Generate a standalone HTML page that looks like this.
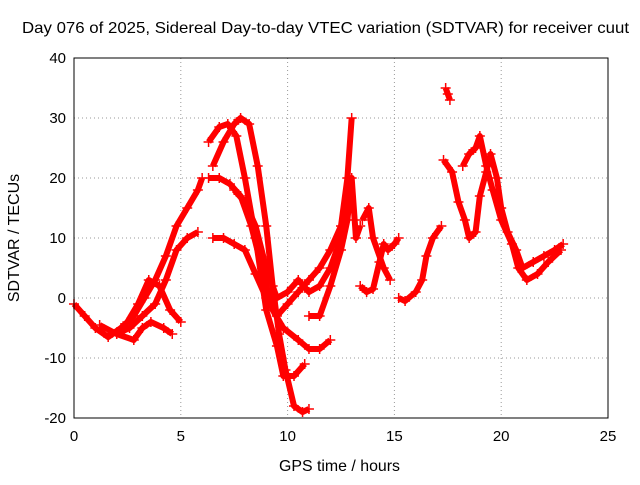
<!DOCTYPE html>
<html><head><meta charset="utf-8">
<style>
html,body{margin:0;padding:0;background:#fff;}
svg text{font-family:"Liberation Sans",sans-serif;font-size:15px;fill:#000;}
</style></head>
<body>
<svg id="chart" width="640" height="480" viewBox="0 0 640 480" xmlns="http://www.w3.org/2000/svg">
<rect width="640" height="480" fill="#fff"/>
<text x="22" y="33" textLength="607" lengthAdjust="spacingAndGlyphs" style="font-size:16px">Day 076 of 2025, Sidereal Day-to-day VTEC variation (SDTVAR) for receiver cuut</text>
<g id="grid"></g>
<g id="series"></g>
<rect x="74" y="58" width="534" height="360" fill="none" stroke="#000" stroke-width="1"/>
<g id="ticks"></g>
<text x="279" y="471" textLength="121" lengthAdjust="spacingAndGlyphs" style="font-size:16px">GPS time / hours</text>
<text x="19" y="238" text-anchor="middle" transform="rotate(-90 19 238)" style="font-size:16px">SDTVAR / TECUs</text>
</svg>
<script>
const xTicks=[0,5,10,15,20,25];
const yTicks=[-20,-10,0,10,20,30,40];
const trackA=[[0,-1],[0.5,-3],[1,-5],[1.6,-6.5],[2.2,-5],[2.8,-3],[3.3,0],[3.8,3],[4.3,7],[4.8,12],[5.3,15],[5.8,18],[6,20]];
const trackB=[[1.2,-4.5],[2,-6],[2.6,-5],[3.2,-3],[3.8,-1],[4.3,3],[4.8,8],[5.3,10],[5.8,11]];
const trackC=[[2,-6],[2.8,-7],[3.2,-5],[3.6,-4],[4.2,-5],[4.6,-6]];
const trackD=[[2.5,-4],[3,-1],[3.5,3],[4,2],[4.5,-2],[5,-4]];
const trackE=[[6.5,22],[7,26],[7.5,29],[7.8,30],[8.2,29],[8.6,22],[9,12],[9.3,2],[9.6,-6],[9.9,-12],[10.3,-18],[10.7,-19],[11,-18.5]];
const trackF=[[6.3,26],[6.8,28.5],[7.2,29],[7.6,27],[8,20],[8.5,10],[9,-2],[9.5,-8],[9.8,-13],[10.3,-13],[10.8,-11]];
const trackG=[[6.3,20],[6.8,20],[7.3,19],[7.8,17],[8.3,12],[8.8,5],[9.3,-2],[9.8,-5],[10.5,-7],[11,-8.5],[11.5,-8.5],[12,-7]];
const trackH=[[6.5,10],[7,10],[7.5,9],[8,8],[8.5,4],[9,0],[9.5,-3],[10,-1],[10.5,1],[11,3],[11.5,5],[12,8],[12.5,12],[12.8,20],[13,30]];
const trackI=[[7.5,18],[8,16],[8.5,12],[9,5],[9.5,0],[10,1],[10.5,3],[11,1],[11.5,2],[12,5],[12.5,10],[12.8,15]];
const trackJ=[[11,-3],[11.5,-3],[12,2],[12.5,8],[12.8,13],[13,20],[13.2,10],[13.4,12]];
const trackK=[[13.4,2],[13.7,1],[14,1.5],[14.3,6],[14.5,9],[14.7,8],[15,9],[15.2,10]];
const trackL=[[13.5,13],[13.8,15],[14,10],[14.5,5],[14.8,3]];
const trackM=[[15.2,0],[15.5,-0.5],[16,1],[16.3,3],[16.5,7],[16.8,10],[17.2,12]];
const trackN=[[17.4,35],[17.5,34],[17.6,33]];
const trackO=[[17.3,23],[17.7,21],[18,16],[18.3,13],[18.5,10],[18.8,11],[19,17],[19.3,21],[19.5,24],[19.8,20],[20,15],[20.3,11],[20.7,8],[21,5],[21.5,6],[22,7],[22.5,8],[22.9,9]];
const trackP=[[18.2,22],[18.5,24],[18.8,25],[19,27],[19.3,22],[19.6,18],[20,13],[20.5,9],[20.8,5],[21.2,3],[21.7,4],[22.2,6],[22.8,8]];
const tracks=[trackA,trackB,trackC,trackD,trackE,trackF,trackG,trackH,trackI,trackJ,trackK,trackL,trackM,trackN,trackO,trackP];

const NS="http://www.w3.org/2000/svg";
const X0=74,X1=608,Y0=418,Y1=58;
const sx=v=>X0+(v-0)/(25-0)*(X1-X0);
const sy=v=>Y0-(v+20)/(40+20)*(Y0-Y1);
const grid=document.getElementById('grid'),ticks=document.getElementById('ticks'),ser=document.getElementById('series');
function mk(tag,attrs,parent){const e=document.createElementNS(NS,tag);for(const k in attrs)e.setAttribute(k,attrs[k]);parent.appendChild(e);return e;}
xTicks.forEach(t=>{
  if(t>0&&t<25){const g=mk('line',{x1:sx(t),x2:sx(t),y1:Y1,y2:Y0,stroke:'#999','stroke-dasharray':'1,3'},grid);
  
  }
  const l=mk('text',{x:sx(t),y:Y0+23,'text-anchor':'middle'},ticks);l.textContent=t;
  
  
});
yTicks.forEach(t=>{
  if(t>-20&&t<40){const g=mk('line',{x1:X0,x2:X1,y1:sy(t),y2:sy(t),stroke:'#999','stroke-dasharray':'1,3'},grid);
  
  }
  const l=mk('text',{x:X0-8,y:sy(t)+5,'text-anchor':'end'},ticks);l.textContent=t;
  
  
});
tracks.forEach((tr,i)=>{
  const p=mk('polyline',{points:tr.map(d=>sx(d[0])+','+sy(d[1])).join(' '),fill:'none',stroke:'#f00','stroke-width':6,'stroke-linejoin':'round'},ser);
  
  
  tr.forEach(d=>{
    const m=mk('path',{d:`M${sx(d[0])-5},${sy(d[1])}h10M${sx(d[0])},${sy(d[1])-5}v10`,stroke:'#f00','stroke-width':1.5},ser);
    
    
  });
});
</script>
</body></html>
